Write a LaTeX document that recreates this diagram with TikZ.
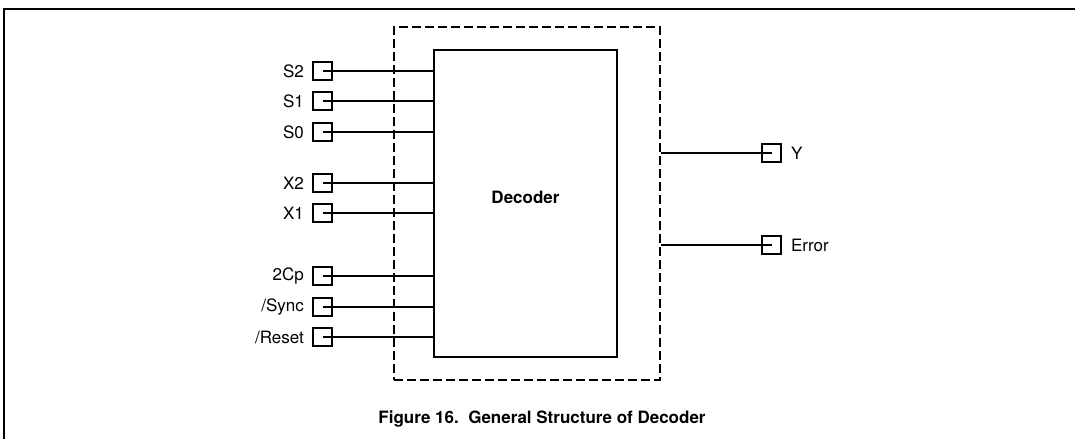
\documentclass[tikz,border=0pt]{standalone}
\usepackage{fontspec}
\setmainfont{TeX Gyre Heros}
\usepackage{tikz}
\usetikzlibrary{
    positioning,
    calc
}
\tikzset{
    pinbox/.style={
        draw,
        line width=2.3pt,
        minimum size=18.5pt,
        inner sep=0pt
    },
    pinlabel/.style={
        inner sep=0pt,
        font=\fontsize{17}{20}\selectfont
    },
    wire/.style={line width=1.1pt},
    framebox/.style={line width=2.8pt}
}

\begin{document}
\begin{tikzpicture}[x=1pt,y=-1pt]
                \useasboundingbox (0,0) rectangle (1075,439);
                \draw[framebox] (4,439) -- (4,9) -- (1075,9);
                \node[
                    draw,
                    dash pattern=on 9pt off 4pt,
                    line width=2.2pt,
                    minimum width=266pt,
                    minimum height=353pt,
                    inner sep=0pt
                ] (wrap) at (527,203.5) {};
                \node[
                    draw,
                    line width=2.3pt,
                    minimum width=183pt,
                    minimum height=307pt,
                    inner sep=0pt
                ] (dec) at (525.5,203.5) {};
                \node[pinlabel, font=\fontsize{17}{20}\selectfont\bfseries]
                    (dectxt) at ([yshift=6pt]dec.center) {Decoder};
                \foreach \pin/\lbl/\yy in {S2/S2/71,S1/S1/101,S0/S0/132,X2/X2/183,X1/X1/213,Cp/2Cp/276,Sync/{/Sync}/307,Reset/{/Reset}/337}{
                    \node[pinbox] (p\pin) at (322.5,\yy) {};
                    \node[pinlabel, left=8pt of p\pin] (l\pin) {\lbl};
                    \draw[wire] (p\pin.center) -- (p\pin.center -| dec.west);
                }
                \foreach \pin/\yy in {Y/153,Error/245}{
                    \node[pinbox] (p\pin) at (771.5,\yy) {};
                    \node[pinlabel, right=9pt of p\pin] (l\pin) {\pin};
                    \draw[wire] (p\pin.center -| wrap.east) -- (p\pin.center);
                }
                \node[pinlabel, font=\fontsize{17}{20}\selectfont\bfseries]
                    (caption) at (542,419) {Figure 16.\ \ General Structure of Decoder};
            \end{tikzpicture}
\end{document}
